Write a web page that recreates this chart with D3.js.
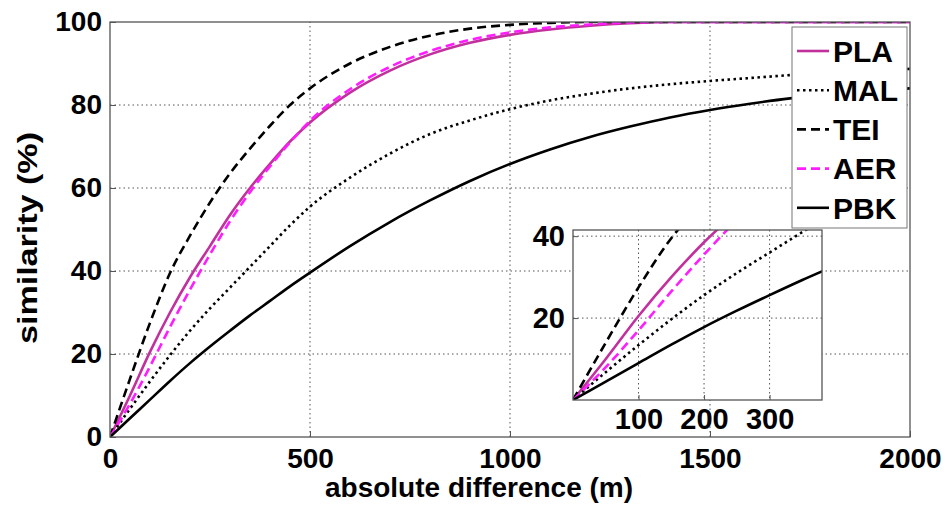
<!DOCTYPE html>
<html>
<head>
<meta charset="utf-8">
<script src="https://cdn.jsdelivr.net/npm/d3@7"></script>
<style>
  body { margin: 0; background: #fff; }
  text { font-family: Arial, "Liberation Sans", sans-serif; font-weight: bold; fill: #000; }
</style>
</head>
<body>
<svg id="chart" width="948" height="508"></svg>
<script>
// distance (m) and similarity (%)
var distances = [0, 50, 100, 150, 200, 250, 300, 350, 400, 450, 500, 600, 700, 800, 900, 1000, 1100, 1200, 1300, 1400, 1500, 1600, 1700, 1800, 1900, 2000];
var PLA = [0, 10, 20.5, 30, 38.5, 46, 53.5, 60, 65.8, 71.2, 75.8, 83, 88.3, 92.2, 95, 96.9, 98.2, 99.1, 99.7, 100, 100, 100, 100, 100, 100, 100];
var MAL = [0, 6.8, 13.4, 19.7, 25.6, 31, 36, 41, 46, 51, 55.5, 62.5, 68.3, 73, 76.3, 79, 81.1, 82.7, 84, 85, 85.8, 86.5, 87.2, 87.8, 88.3, 88.7];
var TEI = [0, 14, 27.5, 39.5, 48.5, 56.5, 63.5, 69.5, 75, 80, 84, 90, 94, 96.7, 98.4, 99.3, 99.8, 100, 100, 100, 100, 100, 100, 100, 100, 100];
var AER = [0, 8, 17, 26.5, 35.5, 44, 52, 59, 65.2, 71, 76.2, 83.8, 89.2, 93, 95.7, 97.5, 98.7, 99.4, 99.9, 100, 100, 100, 100, 100, 100, 100];
var PBK = [0, 4.5, 9, 13.5, 17.8, 21.8, 25.6, 29.3, 32.8, 36.3, 39.6, 46, 51.8, 57, 61.7, 65.8, 69.3, 72.3, 74.8, 77, 78.8, 80.3, 81.6, 82.6, 83.4, 84];

var seriesNames = ['PLA', 'MAL', 'TEI', 'AER', 'PBK'];
var seriesValues = [PLA, MAL, TEI, AER, PBK];

var xTicks = [0, 500, 1000, 1500, 2000];
var yTicks = [0, 20, 40, 60, 80, 100];
var insetXTicks = [100, 200, 300];
var insetYTicks = [20, 40];

var style = {
  PLA: { color: '#c2309e', dash: null },
  MAL: { color: '#000', dash: '2.5,3.5' },
  TEI: { color: '#000', dash: '9,5' },
  AER: { color: '#ff1cff', dash: '9,5' },
  PBK: { color: '#000', dash: null }
};

var svg = d3.select('#chart');

var x = d3.scaleLinear().domain([0, 2000]).range([110, 910]);
var y = d3.scaleLinear().domain([0, 100]).range([437, 22]);

svg.append('defs').append('clipPath').attr('id', 'mainClip')
  .append('rect').attr('x', 110).attr('y', 22).attr('width', 800).attr('height', 415);

// grid
var grid = svg.append('g');
grid.selectAll('.vg').data(xTicks.slice(1, -1)).enter().append('line')
  .attr('x1', d => x(d)).attr('x2', d => x(d)).attr('y1', y(0)).attr('y2', y(100))
  .attr('stroke', '#555').attr('stroke-width', 1).attr('stroke-dasharray', '1.5,3');
grid.selectAll('.hg').data(yTicks.slice(1, -1)).enter().append('line')
  .attr('x1', x(0)).attr('x2', x(2000)).attr('y1', d => y(d)).attr('y2', d => y(d))
  .attr('stroke', '#555').attr('stroke-width', 1).attr('stroke-dasharray', '1.5,3');

function toPoints(vals) {
  return distances.map(function (d, i) { return [d, vals[i]]; });
}

function drawLines(g, xs, ys, clipId) {
  var line = d3.line().x(d => xs(d[0])).y(d => ys(d[1])).curve(d3.curveMonotoneX);
  var lg = g.append('g').attr('clip-path', 'url(#' + clipId + ')');
  seriesNames.forEach(function (name, i) {
    lg.append('path')
      .attr('d', line(toPoints(seriesValues[i])))
      .attr('fill', 'none')
      .attr('stroke', style[name].color)
      .attr('stroke-width', 2.6)
      .attr('stroke-dasharray', style[name].dash);
  });
}

drawLines(svg, x, y, 'mainClip');

// frame + inward ticks
svg.append('rect').attr('x', 110).attr('y', 22).attr('width', 800).attr('height', 415)
  .attr('fill', 'none').attr('stroke', '#555').attr('stroke-width', 1.3);

var axB = svg.append('g').attr('transform', 'translate(0,437)')
  .call(d3.axisBottom(x).tickValues(xTicks).tickSize(-6).tickPadding(11).tickFormat(d3.format('d')));
var axL = svg.append('g').attr('transform', 'translate(110,0)')
  .call(d3.axisLeft(y).tickValues(yTicks).tickSize(-6).tickPadding(8).tickFormat(d3.format('d')));
[axB, axL].forEach(function (a) {
  a.select('.domain').remove();
  a.selectAll('line').attr('stroke', '#555');
  a.selectAll('text').style('font-size', '28px').attr('fill', '#000');
});
axB.selectAll('text').attr('dy', '0.71em');

svg.append('text').attr('x', 479).attr('y', 497).attr('text-anchor', 'middle')
  .style('font-size', '28px').text('absolute difference (m)');
svg.append('text').attr('transform', 'translate(37,238) rotate(-90)').attr('text-anchor', 'middle')
  .attr('textLength', 212).attr('lengthAdjust', 'spacingAndGlyphs')
  .style('font-size', '28px').text('similarity (%)');

// inset
var ix = d3.scaleLinear().domain([0, 380]).range([573, 822]);
var iy = d3.scaleLinear().domain([0, 41.5]).range([400, 230]);

svg.append('defs').append('clipPath').attr('id', 'insetClip')
  .append('rect').attr('x', 573).attr('y', 230).attr('width', 249).attr('height', 170);

var inset = svg.append('g');
inset.append('rect').attr('x', 573).attr('y', 230).attr('width', 249).attr('height', 170).attr('fill', '#fff');
inset.selectAll('.ivg').data(insetXTicks).enter().append('line')
  .attr('x1', d => ix(d)).attr('x2', d => ix(d)).attr('y1', 230).attr('y2', 400)
  .attr('stroke', '#555').attr('stroke-dasharray', '1.5,3');
inset.selectAll('.ihg').data(insetYTicks).enter().append('line')
  .attr('x1', 573).attr('x2', 822).attr('y1', d => iy(d)).attr('y2', d => iy(d))
  .attr('stroke', '#555').attr('stroke-dasharray', '1.5,3');
drawLines(inset, ix, iy, 'insetClip');
inset.append('rect').attr('x', 573).attr('y', 230).attr('width', 249).attr('height', 170)
  .attr('fill', 'none').attr('stroke', '#555').attr('stroke-width', 1.3);

var iaxB = inset.append('g').attr('transform', 'translate(0,400)')
  .call(d3.axisBottom(ix).tickValues(insetXTicks).tickSize(-5).tickPadding(8).tickFormat(d3.format('d')));
var iaxL = inset.append('g').attr('transform', 'translate(573,0)')
  .call(d3.axisLeft(iy).tickValues(insetYTicks).tickSize(-5).tickPadding(8).tickFormat(d3.format('d')));
[iaxB, iaxL].forEach(function (a) {
  a.select('.domain').remove();
  a.selectAll('line').attr('stroke', '#555');
  a.selectAll('text').style('font-size', '29px').attr('fill', '#000');
});
iaxB.selectAll('text').attr('dy', '0.71em');

// legend
var legend = svg.append('g');
legend.append('rect').attr('x', 792).attr('y', 27).attr('width', 115).attr('height', 201)
  .attr('fill', '#fff').attr('stroke', '#777').attr('stroke-width', 1);
var item = legend.selectAll('.item').data(seriesNames).enter().append('g')
  .attr('transform', (d, i) => 'translate(0,' + (51 + i * 39.2) + ')');
item.append('line').attr('x1', 797).attr('x2', 829).attr('y1', 0).attr('y2', 0)
  .attr('stroke', d => style[d].color).attr('stroke-width', 2.6)
  .attr('stroke-dasharray', d => style[d].dash);
item.append('text').attr('x', 833).attr('y', 0).attr('dy', '0.36em')
  .style('font-size', '30px').text(d => d);
</script>
</body>
</html>
